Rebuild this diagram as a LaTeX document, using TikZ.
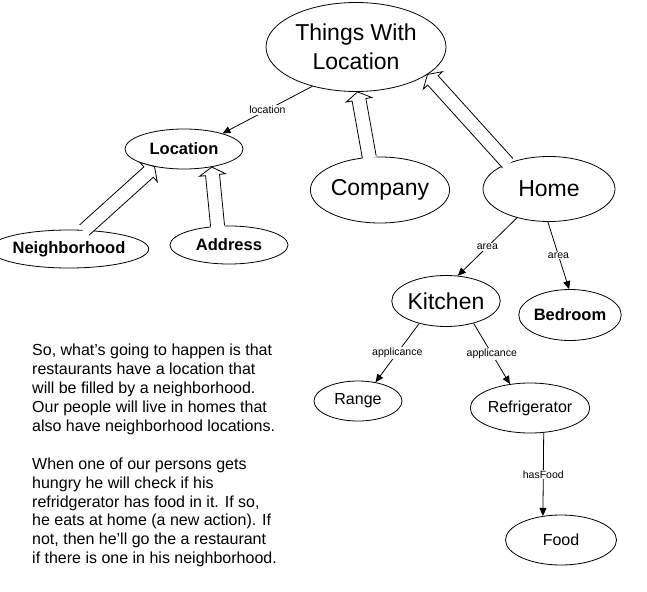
\documentclass[tikz,border=0pt]{standalone}
\usepackage{fontspec}
\setmainfont{Liberation Sans}
\usetikzlibrary{shapes.geometric,calc,arrows.meta}
\tikzset{
  ell/.style={draw, ellipse, inner sep=0pt, line width=0.8pt},
  bigtxt/.style={font=\fontsize{23}{29}\selectfont},
  boldtxt/.style={font=\bfseries\fontsize{16.5}{19}\selectfont},
  smltxt/.style={font=\fontsize{16}{19}\selectfont},
  rel/.style={draw, line width=0.8pt, -{Triangle[length=8pt,width=7pt]}},
  lbl/.style={fill=white, inner sep=1pt, font=\fontsize{10.5}{12}\selectfont},
  hollowline/.style={line width=0.8pt, line join=miter},
  note/.style={align=left, inner sep=0pt, font=\fontsize{16}{18.9}\selectfont},
}
\newcommand\hollowarrow[2]{%
  \coordinate (ha-a) at (#1);
  \coordinate (ha-b) at (#2);
  \coordinate (ha-h) at ($(ha-b)!8pt!(ha-a)$);
  \coordinate (ha-c) at ($(ha-a)!-1.5pt!(ha-b)$);
  \fill[white] ($(ha-c)!7pt!90:(ha-b)$) -- ($(ha-h)!7pt!90:(ha-b)$) -- ($(ha-h)!13pt!90:(ha-b)$) -- (ha-b)
     -- ($(ha-h)!13pt!-90:(ha-b)$) -- ($(ha-h)!7pt!-90:(ha-b)$) -- ($(ha-c)!7pt!-90:(ha-b)$) -- cycle;
  \draw[hollowline] ($(ha-a)!7pt!90:(ha-b)$) -- ($(ha-h)!7pt!90:(ha-b)$) -- ($(ha-h)!13pt!90:(ha-b)$) -- (ha-b)
     -- ($(ha-h)!13pt!-90:(ha-b)$) -- ($(ha-h)!7pt!-90:(ha-b)$) -- ($(ha-a)!7pt!-90:(ha-b)$);
}
\begin{document}
\begin{tikzpicture}[x=1pt,y=-1pt]
\useasboundingbox (0,0) rectangle (647,591);
\fill[white] (0,0) rectangle (647,591);

% nodes
\node[ell,bigtxt,align=center,minimum width=180pt,minimum height=89pt] (things) at (356,47) {Things With\\Location};
\node[ell,boldtxt,minimum width=118pt,minimum height=40pt] (location) at (184,149) {Location};
\node[ell,boldtxt,minimum width=134pt,minimum height=38pt] (neigh) at (69,249) {Neighborhood};
\node[ell,boldtxt,minimum width=118pt,minimum height=38pt] (address) at (229,245) {Address};
\node[ell,bigtxt,minimum width=133pt,minimum height=66pt] (company) at (380,190) {Company};
\node[ell,bigtxt,minimum width=132pt,minimum height=65pt] (home) at (549,189) {Home};
\node[ell,bigtxt,minimum width=101pt,minimum height=51pt] (kitchen) at (446,301) {Kitchen};
\node[ell,boldtxt,minimum width=102pt,minimum height=51pt] (bedroom) at (570,315) {Bedroom};
\node[ell,smltxt,minimum width=88pt,minimum height=40pt] (range) at (358,401) {Range};
\node[ell,smltxt,minimum width=111pt,minimum height=50pt] (fridge) at (530,408) {Refrigerator};
\node[ell,smltxt,minimum width=111pt,minimum height=50pt] (food) at (561,540) {Food};

% relations
\draw[rel] (things.-138) -- node[lbl] {location} (location.22);
\draw[rel] (home.-138) -- node[lbl] {area} (kitchen.65);
\draw[rel] (home.-92) -- node[lbl] {area} (bedroom.92);
\draw[rel] (kitchen.-140) -- node[lbl] {applicance} (range.47);
\draw[rel] (kitchen.-39) -- node[lbl] {applicance} (fridge.130);
\draw[rel] (fridge.-61) -- node[lbl,pos=0.5] {hasFood} (food.127);

% subclass (hollow) arrows
\hollowarrow{company.108}{things.-88}
\hollowarrow{home.148}{things.-21}
\hollowarrow{neigh.51}{location.-149}
\hollowarrow{address.121}{location.-33}

% note
\node[note,anchor=north west] (notetext) at (32,344) {So, what's going to happen is that\\
restaurants have a location that\\
will be filled by a neighborhood.\\
Our people will live in homes that\\
also have neighborhood locations.\\[18.9pt]
When one of our persons gets\\
hungry he will check if his\\
refridgerator has food in it. If so,\\
he eats at home (a new action). If\\
not, then he'll go the a restaurant\\
if there is one in his neighborhood.};
\end{tikzpicture}
\end{document}
